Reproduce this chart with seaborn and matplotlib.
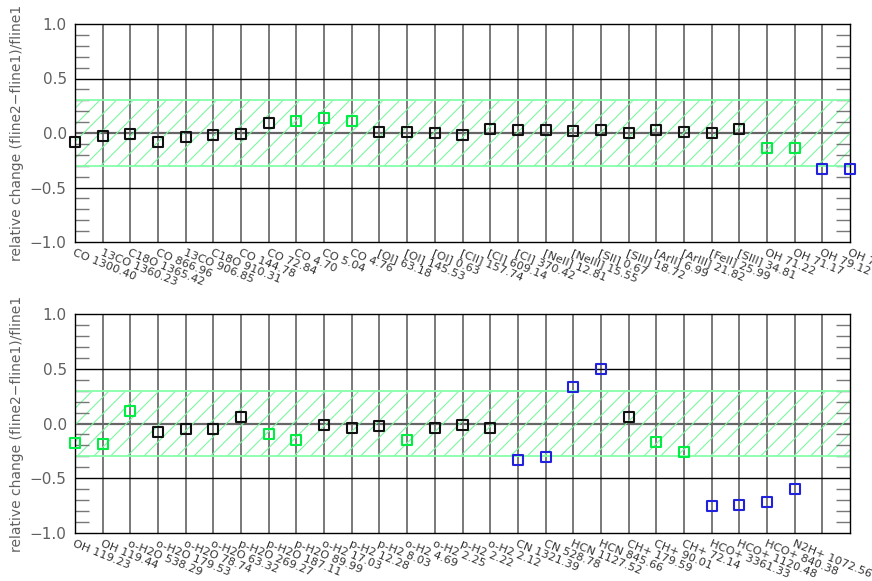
import matplotlib
matplotlib.use("Agg")
import matplotlib.pyplot as plt
from matplotlib.ticker import MultipleLocator
import seaborn as sns
import pandas as pd

# line labels and relative changes
top_labels = ["CO 1300.40", "13CO 1360.23", "C18O 1365.42", "CO 866.96", "13CO 906.85",
              "C18O 910.31", "CO 144.78", "CO 72.84", "CO 4.70", "CO 5.04", "CO 4.76",
              "[OI] 63.18", "[OI] 145.53", "[OI] 0.63", "[CII] 157.74", "[CI] 609.14",
              "[CI] 370.42", "[NeII] 12.81", "[NeIII] 15.55", "[SII] 0.67", "[SIII] 18.72",
              "[ArII] 6.99", "[ArIII] 21.82", "[FeII] 25.99", "[SIII] 34.81", "OH 71.22",
              "OH 71.17", "OH 79.12", "OH 79.18"]
top_values = [-0.08, -0.03, -0.01, -0.08, -0.04, -0.02, -0.01, 0.09, 0.11, 0.14, 0.11,
              0.01, 0.01, 0.00, -0.02, 0.04, 0.03, 0.03, 0.02, 0.03, 0.00, 0.03, 0.01,
              0.00, 0.04, -0.14, -0.14, -0.33, -0.33]
top_flags = ["ok"] * 8 + ["mid"] * 3 + ["ok"] * 14 + ["mid", "mid", "high", "high"]

bottom_labels = ["OH 119.23", "OH 119.44", "o-H2O 538.29", "o-H2O 179.53", "o-H2O 78.74",
                 "o-H2O 63.32", "p-H2O 269.27", "p-H2O 187.11", "p-H2O 89.99", "o-H2 17.03",
                 "p-H2 12.28", "p-H2 8.03", "o-H2 4.69", "o-H2 2.25", "p-H2 2.22",
                 "o-H2 2.12", "CN 1321.39", "CN 528.78", "HCN 1127.52", "HCN 845.66",
                 "CH+ 179.59", "CH+ 90.01", "CH+ 72.14", "HCO+ 3361.33", "HCO+ 1120.48",
                 "HCO+ 840.38", "N2H+ 1072.56"]
bottom_values = [-0.18, -0.19, 0.11, -0.08, -0.05, -0.05, 0.06, -0.10, -0.15, -0.01,
                 -0.04, -0.02, -0.15, -0.04, -0.01, -0.04, -0.33, -0.31, 0.33, 0.50,
                 0.06, -0.17, -0.26, -0.75, -0.74, -0.72, -0.60]
bottom_flags = ["mid", "mid", "mid", "ok", "ok", "ok", "ok", "mid", "mid", "ok", "ok", "ok",
                "mid", "ok", "ok", "ok", "high", "high", "high", "high", "ok", "mid", "mid",
                "high", "high", "high", "high"]

n_slots = 29
palette = {"ok": "#111111", "mid": "#00ee44", "high": "#2222dd"}
gray = "#606060"
plt.rcParams["hatch.linewidth"] = 0.8


def draw_panel(ax, labels, values, flags):
    df = pd.DataFrame({"x": range(len(values)), "y": values, "flag": flags})

    # tolerance band +/- 0.3
    ax.fill_between([0, n_slots - 1], -0.3, 0.3, facecolor="none", edgecolor="#7cf7a0",
                    hatch="//", linewidth=0, zorder=1)
    ax.axhline(0.3, color="#86ffaa", lw=1.3, zorder=2)
    ax.axhline(-0.3, color="#86ffaa", lw=1.3, zorder=2)

    # grid
    for i in range(1, n_slots - 1):
        ax.axvline(i, color="#555555", lw=1.1, zorder=0)
    ax.axhline(0.5, color="black", lw=1, zorder=0)
    ax.axhline(-0.5, color="black", lw=1, zorder=0)
    ax.axhline(0, color="#666666", lw=1.6, zorder=0)

    sns.scatterplot(data=df, x="x", y="y", hue="flag", palette=palette, marker="s",
                    s=52, linewidth=1.5, legend=False, ax=ax, zorder=5, clip_on=False)
    pts = ax.collections[-1]
    pts.set_edgecolors(pts.get_facecolors())
    pts.set_facecolors("none")

    ax.set_xlim(0, n_slots - 1)
    ax.set_ylim(-1, 1)
    ax.set_xticks(range(n_slots))
    ax.set_xticklabels(labels + [""] * (n_slots - len(labels)), rotation=-22,
                       ha="left", va="top", rotation_mode="anchor", fontsize=8.2,
                       color="#333333")
    ax.tick_params(axis="x", length=0, pad=4)
    ax.set_yticks([-1, -0.5, 0, 0.5, 1])
    ax.set_yticklabels(["−1.0", "−0.5", "0.0", "0.5", "1.0"])
    ax.yaxis.set_minor_locator(MultipleLocator(0.1))
    ax.tick_params(axis="y", which="major", length=0, pad=6, labelsize=11, labelcolor=gray)
    ax.tick_params(axis="y", which="minor", direction="in", length=10, color="#777777",
                   width=1, left=True, right=True)
    ax.set_xlabel("")
    ax.set_ylabel("relative change (fline2−fline1)/fline1", fontsize=10, color=gray,
                  labelpad=4)
    for sp in ax.spines.values():
        sp.set_color("black")
        sp.set_linewidth(1)


fig = plt.figure(figsize=(8.72, 5.81), dpi=100)
ax_top = fig.add_axes([75 / 872, 1 - 242 / 581, 775 / 872, 218 / 581])
ax_bot = fig.add_axes([75 / 872, 1 - 533 / 581, 775 / 872, 219 / 581])

draw_panel(ax_top, top_labels, top_values, top_flags)
draw_panel(ax_bot, bottom_labels, bottom_values, bottom_flags)

fig.savefig("out.png", dpi=100)
